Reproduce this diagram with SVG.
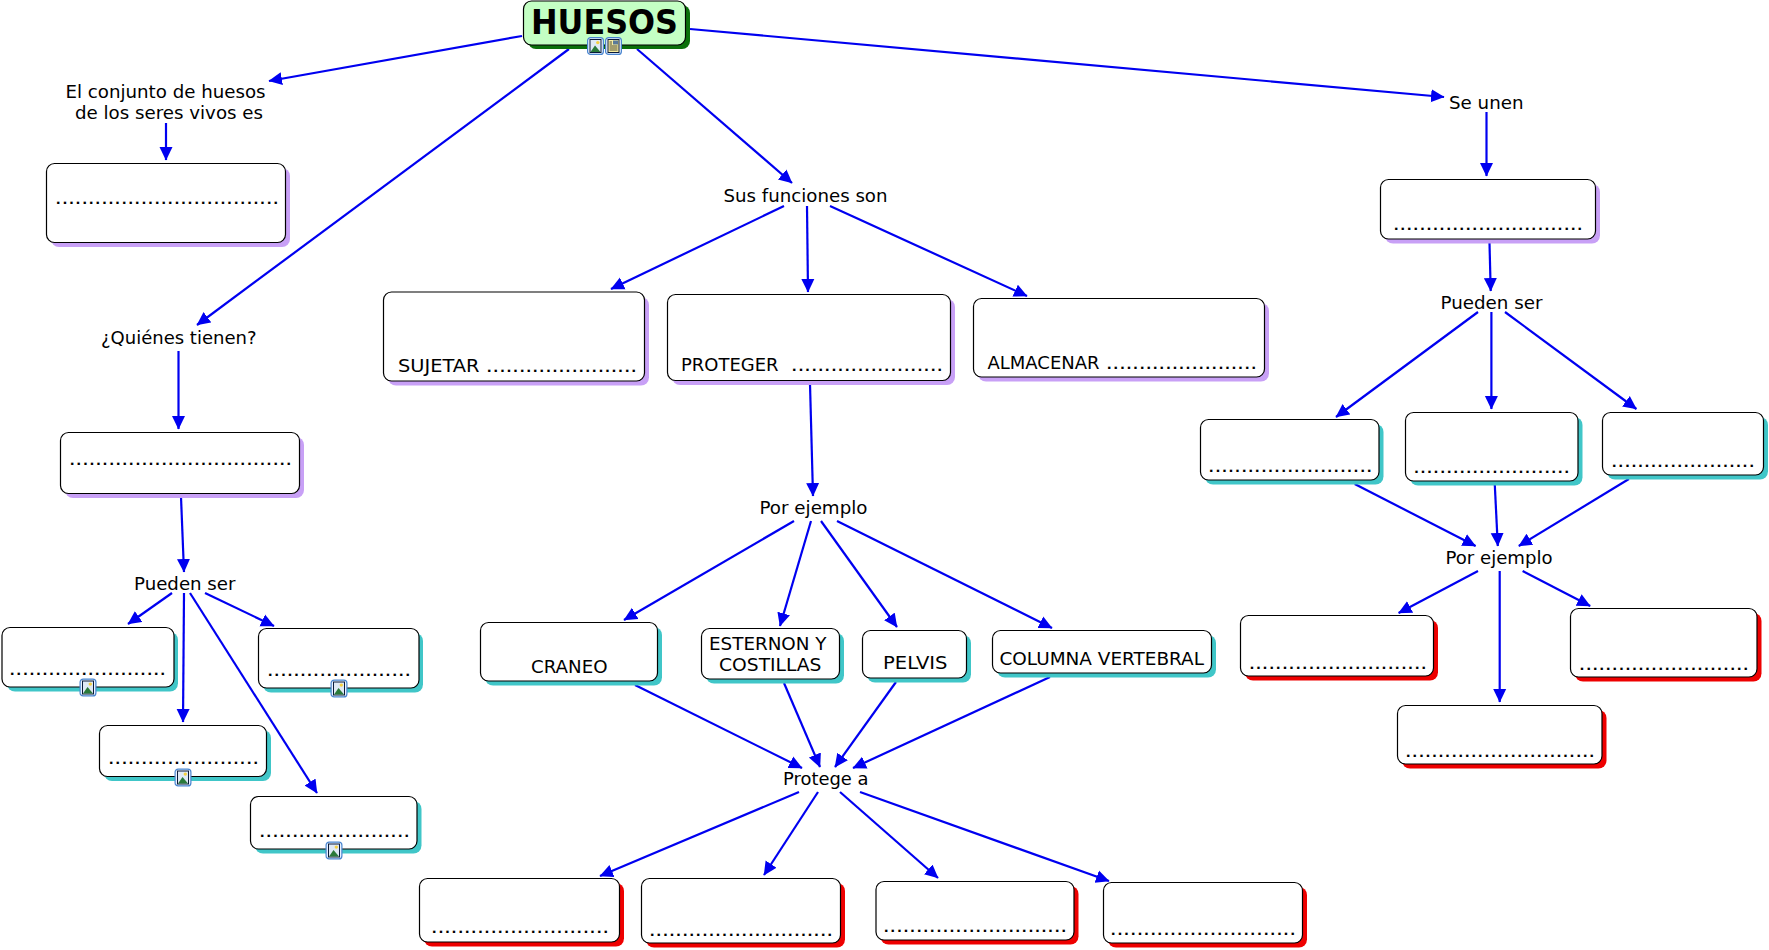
<svg xmlns="http://www.w3.org/2000/svg" xmlns:xlink="http://www.w3.org/1999/xlink" width="1769" height="950" viewBox="0 0 1769 950">
<style>
text{font-family:"DejaVu Sans","Liberation Sans",sans-serif;font-size:17.8px;fill:#000}
.title{font-size:33px;font-weight:bold}
.d{font-size:13px;font-weight:bold}
.c line{stroke:#0000f0;stroke-width:2.2;fill:none;marker-end:url(#ah)}
.b{fill:#fff;stroke:#000;stroke-width:1.2}
.g{fill:#c4ffc4}
.sp{fill:#c8a0f6}.st{fill:#40c6c8}.sr{fill:#ee0000}.sg{fill:#0a700a}
</style>
<defs>
<marker id="ah" markerUnits="userSpaceOnUse" markerWidth="16" markerHeight="16" refX="13" refY="7" orient="auto"><path d="M0 0.5L13.5 7L0 13.5Z" fill="#0000f0"/></marker>
<g id="pic">
<rect x="0.6" y="0.6" width="15.8" height="16.8" rx="3" fill="#eaf2ff" stroke="#4a86d0" stroke-width="1.2"/>
<rect x="3" y="2.5" width="11" height="13" fill="#dfe9f5" stroke="#0a1a3a" stroke-width="1"/>
<circle cx="10.8" cy="5.6" r="1.7" fill="#f5d040"/>
<path d="M3.5 15L8 8.5L13.5 15Z" fill="#2a7a3a"/>
</g>
<g id="doc">
<rect x="0.6" y="0.6" width="15.8" height="16.8" rx="3" fill="#eaf2ff" stroke="#4a86d0" stroke-width="1.2"/>
<rect x="3" y="2.5" width="11" height="13" fill="#f8eea0" stroke="#0a1a3a" stroke-width="1"/>
<rect x="8" y="3.5" width="5" height="4" fill="#5a7a9a"/>
<path d="M4.5 9h8M4.5 11h8M4.5 13h8M4.5 5h2.5M4.5 7h2.5" stroke="#222" stroke-width="0.8"/>
</g>
</defs>
<g id="connectors" class="c">
<line x1="522" y1="36" x2="269" y2="81"/>
<line x1="569" y1="49" x2="197" y2="325"/>
<line x1="637" y1="49" x2="792" y2="183"/>
<line x1="690" y1="29" x2="1444" y2="97"/>
<line x1="166" y1="123" x2="166" y2="160"/>
<line x1="178.5" y1="351" x2="178.5" y2="429"/>
<line x1="181" y1="497" x2="184" y2="572"/>
<line x1="172" y1="593" x2="128" y2="624"/>
<line x1="184" y1="593" x2="183" y2="722"/>
<line x1="190" y1="593" x2="317" y2="793"/>
<line x1="205" y1="593" x2="274" y2="626"/>
<line x1="784" y1="206" x2="611" y2="289"/>
<line x1="807" y1="206" x2="808" y2="292"/>
<line x1="830" y1="206" x2="1027" y2="296"/>
<line x1="810" y1="384" x2="813" y2="496"/>
<line x1="794" y1="521" x2="624" y2="620"/>
<line x1="811" y1="521" x2="780" y2="626"/>
<line x1="821" y1="521" x2="897" y2="627"/>
<line x1="837" y1="521" x2="1052" y2="628"/>
<line x1="635" y1="685" x2="802" y2="768"/>
<line x1="784" y1="683" x2="820" y2="767"/>
<line x1="896" y1="682" x2="835" y2="767"/>
<line x1="1050" y1="677" x2="853" y2="768"/>
<line x1="799" y1="792" x2="600" y2="876"/>
<line x1="818" y1="792" x2="764" y2="875"/>
<line x1="840" y1="792" x2="938" y2="878"/>
<line x1="860" y1="792" x2="1109" y2="881"/>
<line x1="1486.5" y1="112" x2="1486.5" y2="176"/>
<line x1="1489.5" y1="243" x2="1490.7" y2="291"/>
<line x1="1478" y1="312" x2="1336" y2="417"/>
<line x1="1491.4" y1="312" x2="1491.4" y2="409"/>
<line x1="1505" y1="312" x2="1636.4" y2="409"/>
<line x1="1354.7" y1="484" x2="1475.6" y2="546"/>
<line x1="1494.8" y1="485" x2="1497.8" y2="546"/>
<line x1="1628.9" y1="479" x2="1518.8" y2="546"/>
<line x1="1478" y1="571" x2="1398.6" y2="613"/>
<line x1="1499.7" y1="571" x2="1499.7" y2="702"/>
<line x1="1522.6" y1="571" x2="1590.2" y2="606"/>
</g>
<g id="huesos"><rect class="sg" x="528" y="5" width="162" height="44" rx="8"/><rect class="b g" x="523.5" y="1" width="162" height="44" rx="8"/><text class="title" x="531" y="34" textLength="147" lengthAdjust="spacingAndGlyphs">HUESOS</text><use xlink:href="#pic" href="#pic" x="587" y="37"/><use xlink:href="#doc" href="#doc" x="605" y="37"/></g>
<g id="l-conjunto"><text x="65.5" y="98" textLength="200" lengthAdjust="spacingAndGlyphs">El conjunto de huesos</text><text x="75" y="119" textLength="188" lengthAdjust="spacingAndGlyphs">de los seres vivos es</text></g>
<g id="n-conjunto"><rect class="sp" x="51" y="168" width="239" height="79" rx="8"/><rect class="b" x="46.5" y="163.5" width="239" height="79" rx="8"/><text class="d" x="55.8" y="204" textLength="222.4">..................................</text></g>
<g id="l-quienes"><text x="101" y="344" textLength="155.5" lengthAdjust="spacingAndGlyphs">¿Quiénes tienen?</text></g>
<g id="n-quienes"><rect class="sp" x="65" y="437" width="239" height="61" rx="8"/><rect class="b" x="60.5" y="432.5" width="239" height="61" rx="8"/><text class="d" x="69.8" y="465" textLength="221.4">..................................</text></g>
<g id="l-pueden1"><text x="134" y="590" textLength="101.5" lengthAdjust="spacingAndGlyphs">Pueden ser</text></g>
<g id="n1"><rect class="st" x="7" y="632" width="171" height="59.5" rx="8"/><rect class="b" x="2" y="627.5" width="172" height="59.5" rx="8"/><text class="d" x="9.8" y="675" textLength="155.4">........................</text><use xlink:href="#pic" href="#pic" x="79.5" y="678.5"/></g>
<g id="n2"><rect class="st" x="263" y="633" width="160" height="59.5" rx="8"/><rect class="b" x="258.5" y="628.5" width="160.5" height="59.5" rx="8"/><text class="d" x="267.8" y="676" textLength="142.4">......................</text><use xlink:href="#pic" href="#pic" x="330.5" y="679.5"/></g>
<g id="n3"><rect class="st" x="104" y="730" width="167" height="51" rx="8"/><rect class="b" x="99.5" y="725.5" width="167" height="51" rx="8"/><text class="d" x="108.8" y="764" textLength="149.4">.......................</text><use xlink:href="#pic" href="#pic" x="174.5" y="768.5"/></g>
<g id="n4"><rect class="st" x="255" y="801" width="166.5" height="52.5" rx="8"/><rect class="b" x="250.5" y="796.5" width="166.5" height="52.5" rx="8"/><text class="d" x="259.8" y="837" textLength="149.4">.......................</text><use xlink:href="#pic" href="#pic" x="325.5" y="841.5"/></g>
<g id="l-sus"><text x="723.5" y="202" textLength="164" lengthAdjust="spacingAndGlyphs">Sus funciones son</text></g>
<g id="n-sujetar"><rect class="sp" x="388" y="297" width="261" height="88.5" rx="8"/><rect class="b" x="383.5" y="292" width="261" height="89" rx="8"/><text y="372"><tspan x="398" textLength="81.5" lengthAdjust="spacingAndGlyphs">SUJETAR</tspan> <tspan class="d" x="486.8" textLength="149.4">.......................</tspan></text></g>
<g id="n-proteger"><rect class="sp" x="672" y="299" width="283" height="86" rx="8"/><rect class="b" x="667.5" y="294.5" width="283" height="86" rx="8"/><text y="371"><tspan x="681" textLength="97.5" lengthAdjust="spacingAndGlyphs">PROTEGER</tspan> <tspan class="d" x="791.8" textLength="150.4">.......................</tspan></text></g>
<g id="n-almacenar"><rect class="sp" x="978" y="303" width="291" height="78.5" rx="8"/><rect class="b" x="973.5" y="298.5" width="291" height="78.5" rx="8"/><text y="369"><tspan x="987.5" textLength="112" lengthAdjust="spacingAndGlyphs">ALMACENAR</tspan> <tspan class="d" x="1106.8" textLength="149.4">.......................</tspan></text></g>
<g id="l-ejemplo1"><text x="759.5" y="514" textLength="108" lengthAdjust="spacingAndGlyphs">Por ejemplo</text></g>
<g id="n-craneo"><rect class="st" x="485" y="627" width="177" height="58.5" rx="8"/><rect class="b" x="480.5" y="622.5" width="177" height="58.5" rx="8"/><text x="531" y="673" textLength="76.5" lengthAdjust="spacingAndGlyphs">CRANEO</text></g>
<g id="n-esternon"><rect class="st" x="706" y="633" width="138" height="50.5" rx="8"/><rect class="b" x="701.5" y="628.5" width="138" height="50.5" rx="8"/><text x="709" y="650" textLength="117.5" lengthAdjust="spacingAndGlyphs">ESTERNON Y</text><text x="719" y="671" textLength="102.5" lengthAdjust="spacingAndGlyphs">COSTILLAS</text></g>
<g id="n-pelvis"><rect class="st" x="867" y="635" width="104" height="47.5" rx="8"/><rect class="b" x="862.5" y="630.5" width="104" height="47.5" rx="8"/><text x="883" y="669" textLength="64.5" lengthAdjust="spacingAndGlyphs">PELVIS</text></g>
<g id="n-columna"><rect class="st" x="997" y="635" width="219" height="42.5" rx="8"/><rect class="b" x="992.5" y="630.5" width="219" height="42.5" rx="8"/><text x="999.5" y="665" textLength="204.5" lengthAdjust="spacingAndGlyphs">COLUMNA VERTEBRAL</text></g>
<g id="l-protege"><text x="783" y="785" textLength="85.5" lengthAdjust="spacingAndGlyphs">Protege a</text></g>
<g id="r1"><rect class="sr" x="424" y="883" width="200" height="63.5" rx="8"/><rect class="b" x="419.5" y="878.5" width="200" height="63.5" rx="8"/><text class="d" x="431.8" y="933" textLength="176.4">...........................</text></g>
<g id="r2"><rect class="sr" x="646" y="883" width="199" height="64.5" rx="8"/><rect class="b" x="641.5" y="878.5" width="199" height="64.5" rx="8"/><text class="d" x="649.8" y="936" textLength="182.4">............................</text></g>
<g id="r3"><rect class="sr" x="880.5" y="886" width="198" height="58.5" rx="8"/><rect class="b" x="876" y="881.5" width="198" height="58.5" rx="8"/><text class="d" x="883.8" y="932" textLength="182.4">............................</text></g>
<g id="r4"><rect class="sr" x="1108" y="887" width="199" height="60.5" rx="8"/><rect class="b" x="1103.5" y="882.5" width="199" height="60.5" rx="8"/><text class="d" x="1110.8" y="935" textLength="184.4">............................</text></g>
<g id="l-seunen"><text x="1449" y="108.5" textLength="74.5" lengthAdjust="spacingAndGlyphs">Se unen</text></g>
<g id="n-seunen"><rect class="sp" x="1385" y="184" width="215" height="59.5" rx="8"/><rect class="b" x="1380.5" y="179.5" width="215" height="59.5" rx="8"/><text class="d" x="1393.7" y="230" textLength="188.5">.............................</text></g>
<g id="l-pueden2"><text x="1440.5" y="309" textLength="102" lengthAdjust="spacingAndGlyphs">Pueden ser</text></g>
<g id="na"><rect class="st" x="1205" y="424" width="178.5" height="60.5" rx="8"/><rect class="b" x="1200.5" y="419.5" width="178.5" height="60.5" rx="8"/><text class="d" x="1208.8" y="472" textLength="162.9">.........................</text></g>
<g id="nb"><rect class="st" x="1410" y="417" width="172.5" height="68.5" rx="8"/><rect class="b" x="1405.5" y="412.5" width="172.5" height="68.5" rx="8"/><text class="d" x="1414" y="473" textLength="155.2">........................</text></g>
<g id="nc"><rect class="st" x="1607" y="417" width="161" height="62.5" rx="8"/><rect class="b" x="1602.5" y="412.5" width="161" height="62.5" rx="8"/><text class="d" x="1611.8" y="467" textLength="142.3">......................</text></g>
<g id="l-ejemplo2"><text x="1445.5" y="564" textLength="107" lengthAdjust="spacingAndGlyphs">Por ejemplo</text></g>
<g id="rl"><rect class="sr" x="1245" y="620" width="193" height="60.5" rx="8"/><rect class="b" x="1240.5" y="615.5" width="193" height="60.5" rx="8"/><text class="d" x="1249.4" y="669" textLength="176.8">...........................</text></g>
<g id="rr"><rect class="sr" x="1575" y="613" width="186.5" height="68.5" rx="8"/><rect class="b" x="1570.5" y="608.5" width="186.5" height="68.5" rx="8"/><text class="d" x="1579.6" y="670" textLength="168.6">..........................</text></g>
<g id="rb"><rect class="sr" x="1402" y="710" width="204.5" height="58.5" rx="8"/><rect class="b" x="1397.5" y="705.5" width="204.5" height="58.5" rx="8"/><text class="d" x="1405.8" y="757" textLength="188.4">.............................</text></g>
</svg>
